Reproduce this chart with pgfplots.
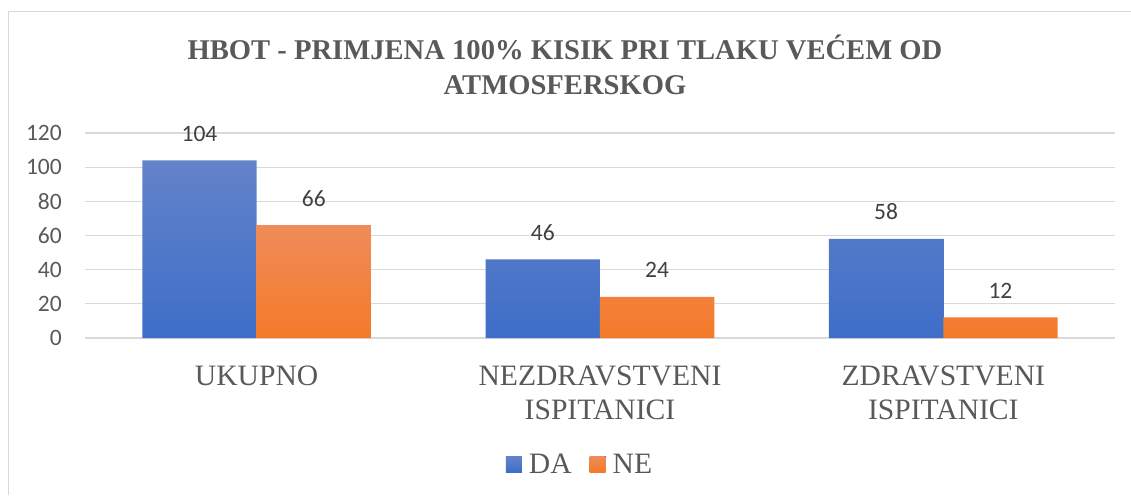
\documentclass[border=0pt]{standalone}
\usepackage{fontspec}
\setmainfont{Liberation Serif}
\newfontfamily\carlito{Carlito}
\usepackage{pgfplots}
\pgfplotsset{compat=1.18}
\definecolor{textgray}{HTML}{595959}
\definecolor{valgray}{HTML}{404040}
\definecolor{gridgray}{HTML}{D9D9D9}
\definecolor{frame}{HTML}{D9D9D9}
\definecolor{bluetop}{HTML}{6383C9}
\definecolor{bluebot}{HTML}{3E6EC8}
\definecolor{orangetop}{HTML}{EF8C5A}
\definecolor{orangebot}{HTML}{F47A29}
\begin{document}
\begin{tikzpicture}
\useasboundingbox (0pt,0pt) rectangle (1131pt,495pt);
\draw[frame, line width=1pt] (8pt,0pt) -- (8pt,483pt) -- (1131pt,483pt);
\node[font=\fontsize{28.6}{35}\selectfont\bfseries, text=textgray, anchor=base] at (565pt,435pt) {HBOT - PRIMJENA 100\% KISIK PRI TLAKU VEĆEM OD};
\node[font=\fontsize{28.6}{35}\selectfont\bfseries, text=textgray, anchor=base] at (565pt,400pt) {ATMOSFERSKOG};
\begin{axis}[
  at={(85pt,157pt)}, anchor=south west,
  scale only axis, width=1030pt, height=205pt,
  xmin=-0.5, xmax=2.5, ymin=0, ymax=120,
  ybar=0pt, bar width=0.333,
  clip=false,
  axis line style={draw=none},
  tick style={draw=none}, major tick length=0pt,
  ytick={0,20,...,120},
  ymajorgrids, major grid style={color=gridgray, line width=1.3pt},
  xtick={0,1,2},
  xticklabels={UKUPNO,{NEZDRAVSTVENI\\ISPITANICI},{ZDRAVSTVENI\\ISPITANICI}},
  xticklabel style={align=center, font=\fontsize{29.6}{33.5}\selectfont, text=textgray, anchor=north, inner sep=0pt, yshift=-28pt},
  yticklabel style={font=\carlito\fontsize{23.5}{26}\selectfont, text=textgray, anchor=east, inner sep=0pt, xshift=-23pt},
  /pgf/number format/assume math mode=true,
  nodes near coords,
  every node near coord/.append style={font=\carlito\fontsize{23.5}{26}\selectfont, text=valgray, anchor=base, inner sep=0pt, yshift=19pt},
  legend columns=2,
  legend style={at={(0.4806,-0.615)}, anchor=center, draw=none, fill=none,
    font=\fontsize{29.6}{33}\selectfont, text=textgray,
    /tikz/every odd column/.append style={column sep=5pt},
    /tikz/every even column/.append style={column sep=16pt}},
  legend image code/.code={\fill[#1] (0pt,-8pt) rectangle (16pt,8pt);},
]
\addplot[draw=none, top color=bluetop, bottom color=bluebot] coordinates {(0,104) (1,46) (2,58)};
\addlegendentry{DA}
\addplot[draw=none, top color=orangetop, bottom color=orangebot] coordinates {(0,66) (1,24) (2,12)};
\addlegendentry{NE}
\end{axis}
\end{tikzpicture}
\end{document}
